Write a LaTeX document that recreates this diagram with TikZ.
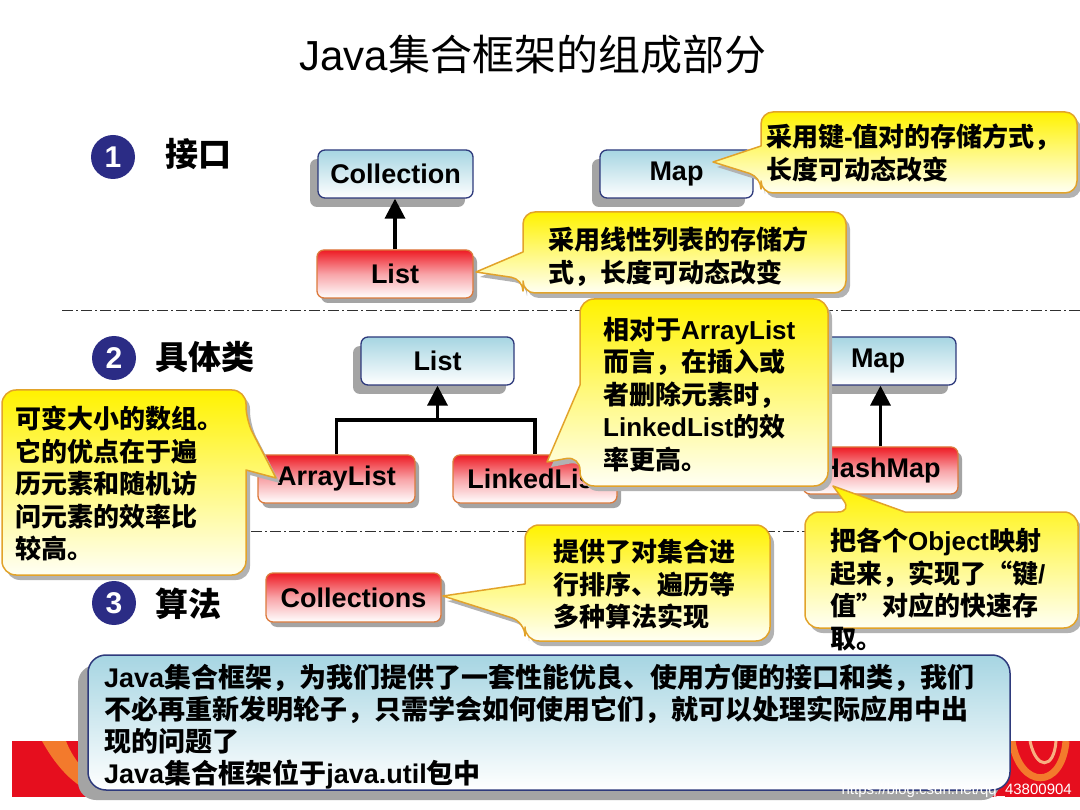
\documentclass[tikz,border=0pt]{standalone}
\usepackage{fontspec}
\setmainfont{Liberation Sans}
\newfontfamily\cjk{Noto Sans CJK SC}
\usetikzlibrary{arrows.meta,shadows}
\definecolor{navyb}{HTML}{2E3A7C}
\definecolor{bluetop}{HTML}{A6D5E2}
\definecolor{redtop}{HTML}{EE1B24}
\definecolor{redmid}{HTML}{F8A4A8}
\definecolor{redb}{HTML}{DC7A3C}
\definecolor{bubtop}{HTML}{FFF200}
\definecolor{bubmid}{HTML}{FFF97E}
\definecolor{bubbot}{HTML}{FFFFF4}
\definecolor{bubb}{HTML}{E2A32A}
\definecolor{shadowgray}{HTML}{A4A4A4}
\definecolor{numblue}{HTML}{2B2C85}
\definecolor{bandred}{HTML}{E60E1E}
\definecolor{swirl}{HTML}{F37A2C}
\definecolor{dashgray}{HTML}{303030}
\newcommand\lt[1]{{\rmfamily #1}}
\newcommand\bubble[1]{\fill[bubshadow] #1; \path[bubstyle] #1;}
\begin{document}
\begin{tikzpicture}[x=1pt,y=-1pt,
  box/.style={rounded corners=7pt, line width=1.3pt, minimum height=48pt, inner sep=0pt,
    font=\bfseries\fontsize{27}{30}\selectfont},
  bluebox/.style={box, draw=navyb, top color=bluetop, bottom color=white,
    drop shadow={shadow xshift=-8pt, shadow yshift=-9pt, fill=shadowgray, opacity=1}},
  redbox/.style={box, draw=redb, top color=redtop, bottom color=white, middle color=redmid,
    drop shadow={shadow xshift=4pt, shadow yshift=-5pt, fill=shadowgray, opacity=1}},
  bubshadow/.style={fill=shadowgray!85, shift={(4,5)}},
  bubstyle/.style={draw=bubb, line width=1.5pt, line join=round, top color=bubtop, bottom color=bubbot, middle color=bubmid},
  btext/.style={anchor=north west, inner sep=0pt, align=left, font=\cjk\bfseries\fontsize{26}{32.5}\selectfont},
  conn/.style={line width=3.5pt, draw=black},
  inh/.style={conn, -{Triangle[width=20pt,length=20pt]}},
  sep/.style={draw=dashgray, line width=1pt, dash pattern=on 11pt off 3pt on 2pt off 3pt},
  num/.style={circle, fill=numblue, minimum size=44pt, inner sep=0pt, text=white,
    font=\bfseries\fontsize{30}{30}\selectfont},
  sect/.style={anchor=west, inner sep=0pt, font=\cjk\bfseries\fontsize{33}{33}\selectfont}
]
\useasboundingbox (0,0) rectangle (1080,810);
\fill[white] (0,0) rectangle (1080,810);

% bottom decorative band
\fill[bandred] (12,741) rectangle (1080,797);
\begin{scope}
\clip (12,741) rectangle (1080,797);
\fill[swirl] (42,741) .. controls (58,770) and (78,790) .. (104,797) -- (118,797) .. controls (92,782) and (74,762) .. (66,741) -- cycle;
\draw[swirl, line width=7pt] (1012,741) .. controls (1020,790) and (1062,790) .. (1066,741);
\draw[swirl!60!white, line width=3pt] (1030,741) .. controls (1036,770) and (1054,770) .. (1056,741);
\end{scope}

% bottom note box
\node[draw=navyb, line width=1.5pt, rounded corners=18pt, top color=bluetop, bottom color=white,
  minimum width=922pt, minimum height=135pt, inner sep=0pt,
  drop shadow={shadow xshift=-10pt, shadow yshift=-10pt, fill=shadowgray, opacity=1}] (note) at (549,722.5) {};

% separators
\coordinate (s1a) at (62,311); \coordinate (s1b) at (1080,311);
\coordinate (s2a) at (232,531); \coordinate (s2b) at (1080,531);
\draw[sep] (s1a) -- (s1b);
\draw[sep] (s2a) -- (s2b);

% title
\node[inner sep=0pt, font=\fontsize{42}{42}\selectfont] (title) at (533,55) {Java{\cjk 集合框架的组成部分}};

% section numbers and labels
\node[num] (n1) at (113,157) {1};
\node[num] (n2) at (114,358) {2};
\node[num] (n3) at (114,603) {3};
\node[sect] (l1) at (165,154) {接口};
\node[sect] (l2) at (155,357) {具体类};
\node[sect] (l3) at (155,604) {算法};

% boxes
\node[bluebox, minimum width=155pt] (coll) at (395.5,174) {Collection};
\node[bluebox, minimum width=153pt] (map1) at (676.5,174) {Map};
\node[redbox, minimum width=156pt] (list1) at (395,274) {List};
\node[bluebox, minimum width=153pt] (list2) at (437.5,361) {List};
\node[bluebox, minimum width=156pt] (map2) at (878,361) {Map};
\node[redbox, minimum width=157pt] (arr) at (336.5,479) {ArrayList};
\node[redbox, minimum width=164pt] (linked) at (535,479) {LinkedList};
\node[redbox, minimum width=155pt, minimum height=47pt] (hash) at (880.5,470.5) {HashMap};
\node[redbox, minimum width=175pt, minimum height=49pt] (colls) at (353.5,597.5) {Collections};

% connectors
\draw[inh] (list1.north) -- (list1.north |- coll.south);
\coordinate (tj) at (437.5,420);
\draw[conn, line join=miter] (arr.north) |- (tj) -| (linked.north);
\draw[inh] (tj) -- (list2.south);
\draw[inh] (hash.north) -- (hash.north |- map2.south);

% bubbles
\bubble{(713,162) -- (761,146) [rounded corners=12pt] -- (761,112) -- (1077,112) -- (1077,193) -- (761,193) -- (761,177) [sharp corners] -- cycle}
\bubble{(476,272) -- (523,252) [rounded corners=12pt] -- (523,212) -- (846,212) -- (846,293) -- (523,293) -- (523,279) [sharp corners] -- cycle}
\bubble{(276,478) -- (246,470) [rounded corners=14pt] -- (246,575) -- (2,575) -- (2,390) -- (246,390) -- (246,420) [sharp corners] -- cycle}
\bubble{(547,462) -- (580,385) [rounded corners=14pt] -- (580,299) -- (828,299) -- (828,486) -- (580,486) -- (580,456) [sharp corners] -- cycle}
\bubble{(833,486) -- (905,512) [rounded corners=14pt] -- (1078,512) -- (1078,628) -- (805,628) -- (805,512) -- (852,512) [sharp corners] -- cycle}
\bubble{(443,596) -- (525,584) [rounded corners=14pt] -- (525,525) -- (770,525) -- (770,641) -- (525,641) -- (525,622) [sharp corners] -- cycle}

% bubble texts
\node[btext] (t1) at (766,124) {采用键\lt{-}值对的存储方式，\\长度可动态改变};
\node[btext] (t2) at (548,227) {采用线性列表的存储方\\式，长度可动态改变};
\node[btext] (t3) at (15,406) {可变大小的数组。\\它的优点在于遍\\历元素和随机访\\问元素的效率比\\较高。};
\node[btext] (t4) at (603,317) {相对于\lt{ArrayList}\\而言，在插入或\\者删除元素时，\\\lt{LinkedList}的效\\率更高。};
\node[btext] (t5) at (830,528) {把各个\lt{Object}映射\\起来，实现了“键\lt{/}\\值”对应的快速存\\取。};
\node[btext] (t6) at (553,539) {提供了对集合进\\行排序、遍历等\\多种算法实现};

% note text
\node[anchor=north west, inner sep=0pt, align=left, font=\cjk\bfseries\fontsize{27}{32}\selectfont] (notetext) at (104,664)
  {\lt{Java}集合框架，为我们提供了一套性能优良、使用方便的接口和类，我们\\不必再重新发明轮子，只需学会如何使用它们，就可以处理实际应用中出\\现的问题了\\\lt{Java}集合框架位于\lt{java.util}包中};

% watermark
\node[anchor=east, inner sep=0pt, text=white, font=\fontsize{15}{15}\selectfont] (wm) at (1072,791) {https://blog.csdn.net/qq\_43800904};
\end{tikzpicture}
\end{document}
